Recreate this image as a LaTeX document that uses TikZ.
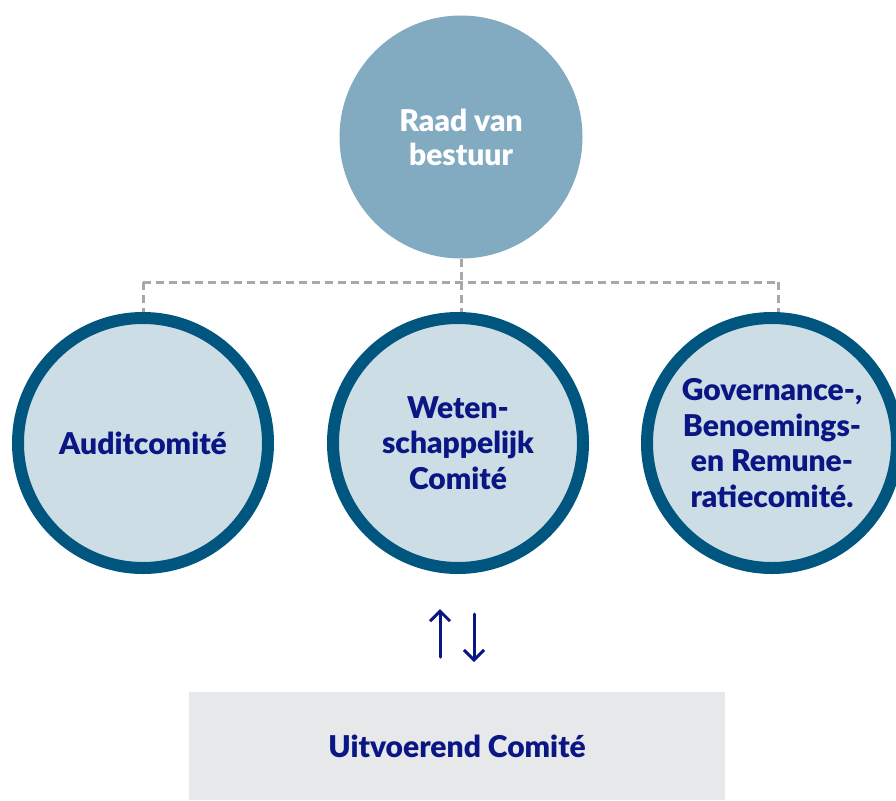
\documentclass[tikz,border=0pt]{standalone}
\usepackage{fontspec}
\setmainfont{Lato}[BoldFont={Lato Black}]
\usetikzlibrary{arrows.meta}
\definecolor{raadblue}{HTML}{82ABC1}
\definecolor{ringblue}{HTML}{01567F}
\definecolor{paleblue}{HTML}{CCDDE5}
\definecolor{navytext}{HTML}{0B1685}
\definecolor{boxgray}{HTML}{E7E8EA}
\definecolor{dashgray}{HTML}{A8A8AA}
\tikzset{
  comite/.style={circle, draw=ringblue, line width=12pt, fill=paleblue, minimum size=250pt, inner sep=0pt,
    align=center, text=navytext, font=\fontsize{30}{35.5}\selectfont\bfseries},
  orglink/.style={dashgray, line width=3pt, dash pattern=on 8pt off 5pt},
  flow/.style={navytext, line width=3pt, line cap=round, -{Straight Barb[length=10pt,width=20pt]}}
}
\begin{document}
\begin{tikzpicture}[x=1pt,y=-1pt]
\useasboundingbox (0,0) rectangle (896,800);

\node[circle, fill=raadblue, minimum size=243pt, inner sep=0pt, align=center, text=white,
  font=\fontsize{30}{34}\selectfont\bfseries] (raad) at (461,137) {Raad van\\bestuur};

\node[comite] (audit) at (143,443) {Auditcomité};
\node[comite] (weten) at (458,443) {Weten-\\schappelijk\\Comité};
\node[comite] (gov) at (772,443) {Governance-,\\Benoemings-\\en Remune-\\ratiecomité.};

\coordinate (jn) at (461,282);
\coordinate (jl) at (143,282);
\coordinate (jr) at (778,282);
\draw[orglink] (raad.south) -- (jn);
\draw[orglink] (jl) -- (jr);
\draw[orglink] (jl) -- (audit.north);
\draw[orglink] (jn) -- (jn |- weten.north);
\draw[orglink] (jr) -- (jr |- gov.north);

\coordinate (upS) at (440,657);
\coordinate (upE) at (440,609);
\coordinate (downS) at (474,614);
\coordinate (downE) at (474,662);
\draw[flow] (upS) -- (upE);
\draw[flow] (downS) -- (downE);

\node[fill=boxgray, minimum width=536pt, minimum height=108pt, inner sep=0pt, text=navytext,
  font=\fontsize{30}{34}\selectfont\bfseries] (uitv) at (457,746) {Uitvoerend Comité};
\end{tikzpicture}
\end{document}
